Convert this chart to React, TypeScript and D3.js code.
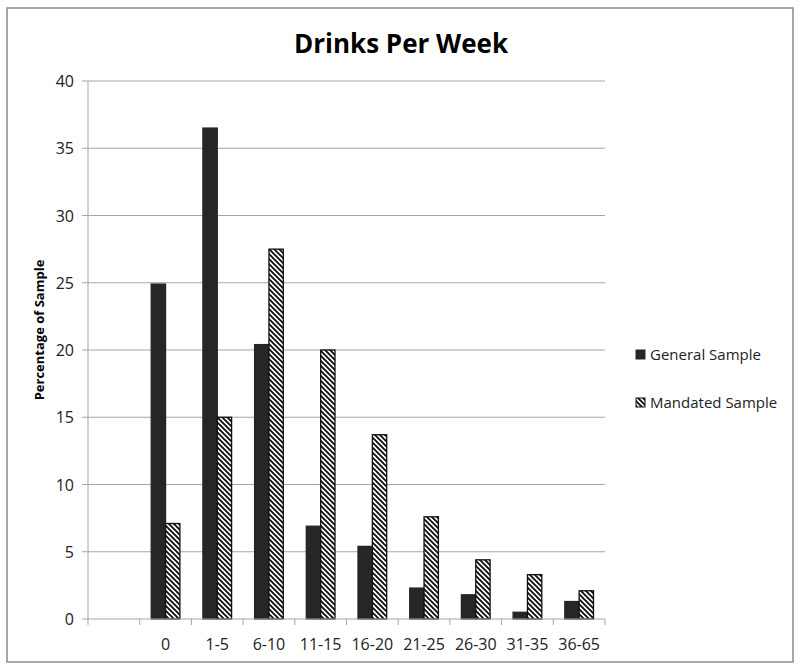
import { useEffect, useRef } from 'react'
import * as d3 from 'd3'

const categories = ['', '0', '1-5', '6-10', '11-15', '16-20', '21-25', '26-30', '31-35', '36-65']
const generalSample = [null, 24.9, 36.5, 20.4, 6.9, 5.4, 2.3, 1.8, 0.5, 1.3]
const mandatedSample = [null, 7.1, 15.0, 27.5, 20.0, 13.7, 7.6, 4.4, 3.3, 2.1]
const seriesNames = ['General Sample', 'Mandated Sample']
const yTicks = [0, 5, 10, 15, 20, 25, 30, 35, 40]

const FONT = '"Open Sans", "Noto Sans", sans-serif'

const App = () => {
  const svgRef = useRef<SVGSVGElement>(null)

  useEffect(() => {
    if (!svgRef.current) return
    const root = d3.select(svgRef.current)
    root.selectAll('*').remove()

    const plot = { left: 88, right: 605, top: 81, bottom: 619 }

    // hatch pattern for mandated sample
    const defs = root.append('defs')
    const pat = defs
      .append('pattern')
      .attr('id', 'hatch')
      .attr('patternUnits', 'userSpaceOnUse')
      .attr('width', 5)
      .attr('height', 5)
    pat.append('rect').attr('width', 5).attr('height', 5).attr('fill', '#fff')
    pat
      .append('path')
      .attr('d', 'M-1,-1 L6,6 M-1,4 L1,6 M4,-1 L6,1')
      .attr('stroke', '#111')
      .attr('stroke-width', 1.9)

    // outer border
    root
      .append('rect')
      .attr('x', 7)
      .attr('y', 8)
      .attr('width', 786)
      .attr('height', 654)
      .attr('fill', '#fff')
      .attr('stroke', '#8c8c8c')
      .attr('stroke-width', 1.5)

    // title
    root
      .append('text')
      .attr('x', 401)
      .attr('y', 53)
      .attr('text-anchor', 'middle')
      .style('font-family', FONT)
      .style('font-size', '26px')
      .style('font-weight', '700')
      .style('fill', '#000')
      .text('Drinks Per Week')

    const x0 = d3
      .scaleBand<string>()
      .domain(categories.map((c, i) => `${i}`))
      .range([plot.left, plot.right])
      .paddingInner(0.445)
      .paddingOuter(0.2225)

    const x1 = d3
      .scaleBand<string>()
      .domain(seriesNames)
      .range([0, x0.bandwidth()])

    const y = d3.scaleLinear().domain([0, 40]).range([plot.bottom, plot.top])

    // gridlines + y ticks
    yTicks.forEach((t) => {
      root
        .append('line')
        .attr('x1', plot.left - 6)
        .attr('x2', t === 0 ? plot.left : plot.right)
        .attr('y1', y(t))
        .attr('y2', y(t))
        .attr('stroke', '#a6a6a6')
        .attr('stroke-width', 1)
      root
        .append('text')
        .attr('x', 74)
        .attr('y', y(t) + 6)
        .attr('text-anchor', 'end')
        .style('font-family', FONT)
        .style('font-size', '16px')
        .style('fill', '#222')
        .text(t)
    })

    // bars
    const series = [
      { name: seriesNames[0], values: generalSample, fill: '#262626', stroke: '#262626' },
      { name: seriesNames[1], values: mandatedSample, fill: 'url(#hatch)', stroke: '#111' },
    ]
    series.forEach((s) => {
      s.values.forEach((v, i) => {
        if (v == null) return
        root
          .append('rect')
          .attr('x', x0(`${i}`)! + x1(s.name)!)
          .attr('y', y(v))
          .attr('width', x1.bandwidth())
          .attr('height', y(0) - y(v))
          .attr('fill', s.fill)
          .attr('stroke', s.stroke)
          .attr('stroke-width', 1.3)
      })
    })

    // axes lines
    root
      .append('line')
      .attr('x1', plot.left)
      .attr('x2', plot.left)
      .attr('y1', plot.top)
      .attr('y2', plot.bottom)
      .attr('stroke', '#a6a6a6')
    root
      .append('line')
      .attr('x1', plot.left)
      .attr('x2', plot.right)
      .attr('y1', plot.bottom)
      .attr('y2', plot.bottom)
      .attr('stroke', '#a6a6a6')

    const step = x0.step()
    d3.range(categories.length + 1).forEach((i) => {
      const xx = plot.left + i * step
      root
        .append('line')
        .attr('x1', xx)
        .attr('x2', xx)
        .attr('y1', plot.bottom)
        .attr('y2', plot.bottom + 6)
        .attr('stroke', '#a6a6a6')
    })

    categories.forEach((c, i) => {
      root
        .append('text')
        .attr('x', x0(`${i}`)! + x0.bandwidth() / 2)
        .attr('y', 650)
        .attr('text-anchor', 'middle')
        .style('font-family', FONT)
        .style('font-size', '16px')
        .style('fill', '#222')
        .text(c)
    })

    // y label
    root
      .append('text')
      .attr('transform', `translate(44,${(plot.top + plot.bottom) / 2 - 20}) rotate(-90)`)
      .attr('text-anchor', 'middle')
      .style('font-family', FONT)
      .style('font-size', '13px')
      .style('font-weight', '700')
      .style('fill', '#000')
      .text('Percentage of Sample')

    // legend
    series.forEach((s, i) => {
      const ly = 355 + i * 48
      root
        .append('rect')
        .attr('x', 636)
        .attr('y', ly - 5)
        .attr('width', 9)
        .attr('height', 9)
        .attr('fill', s.fill)
        .attr('stroke', s.stroke)
        .attr('stroke-width', 1)
      root
        .append('text')
        .attr('x', 650)
        .attr('y', ly + 5)
        .style('font-family', FONT)
        .style('font-size', '15px')
        .style('fill', '#222')
        .text(s.name)
    })
  }, [])

  return (
    <svg
      ref={svgRef}
      width={800}
      height={669}
      style={{ position: 'absolute', left: 0, top: 0, background: '#fff' }}
    />
  )
}

export default App
